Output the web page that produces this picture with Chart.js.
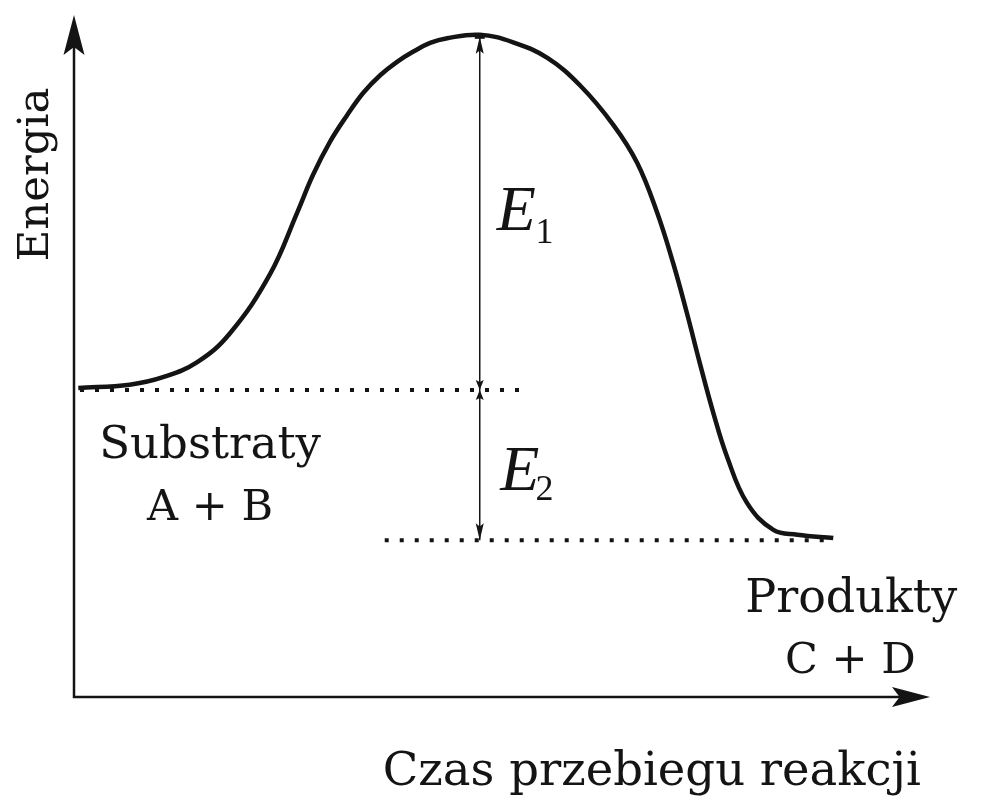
<!DOCTYPE html>
<html>
<head>
<meta charset="utf-8">
<title>Energia</title>
<script src="https://cdn.jsdelivr.net/npm/chart.js@4/dist/chart.umd.min.js"></script>
<style>
    html, body { margin: 0; padding: 0; background: #fff; }
    #wrap { width: 982px; height: 799px; }
</style>
</head>
<body>
<div id="wrap"><canvas id="chart" width="982" height="799"></canvas></div>
<script>
// reaction profile, both axes in arbitrary units 0-100
var curveTime   = [0.5, 6.5, 10.4, 14.4, 18.2, 22.9, 26.1, 27.9, 29.9, 31.9, 33.8, 35.8, 37.7, 39.6, 41.6, 43.6, 47.4,
                   51.3, 55.3, 59.1, 63.0, 65.8, 68.1, 70.0, 71.6, 73.1, 74.7, 76.3, 78.6, 81.7, 84.5, 88.7];
var curveEnergy = [45.3, 45.8, 46.9, 49.1, 53.3, 62.0, 71.1, 76.5, 81.4, 85.3, 88.6, 91.2, 93.1, 94.6, 95.9, 96.6, 97.1,
                   96.0, 93.7, 89.7, 83.9, 78.3, 71.1, 63.6, 56.3, 49.0, 41.6, 35.2, 28.5, 24.5, 23.8, 23.3];

var substrateLevel = 45.0;
var productLevel = 23.0;
var peakTime = 47.4;
var peakEnergy = 96.8;
var substrateLineX = [0.7, 52.1];
var productLineX = [36.3, 88.3];

var labelTexts = ["Substraty", "A + B", "Produkty", "C + D"];
var axisTitles = ["Czas przebiegu reakcji", "Energia"];
var energyNames = ["E", "E"];
var energySubs = ["1", "2"];

var curveData = curveTime.map(function (t, i) {
    return { x: t, y: curveEnergy[i] };
});

function flatLine(xs, level) {
    return [{ x: xs[0], y: level }, { x: xs[1], y: level }];
}

function arrowHead(ctx, tx, ty, dx, dy, len, half) {
    var bx = tx - dx * len, by = ty - dy * len;
    var nx = -dy, ny = dx;
    ctx.beginPath();
    ctx.moveTo(tx, ty);
    ctx.lineTo(bx + nx * half, by + ny * half);
    ctx.lineTo(tx - dx * len * 0.8, ty - dy * len * 0.8);
    ctx.lineTo(bx - nx * half, by - ny * half);
    ctx.closePath();
    ctx.fill();
}

var diagramPlugin = {
    id: "diagram",
    afterDatasetsDraw: function (chart) {
        var ctx = chart.ctx;
        var xs = chart.scales.x, ys = chart.scales.y;
        var px = function (v) { return xs.getPixelForValue(v); };
        var py = function (v) { return ys.getPixelForValue(v); };
        var ink = "#141414";

        ctx.save();
        ctx.strokeStyle = ink;
        ctx.fillStyle = ink;

        // axes with arrows
        ctx.lineWidth = 2.5;
        ctx.beginPath();
        ctx.moveTo(px(0), py(100) + 20);
        ctx.lineTo(px(0), py(0));
        ctx.lineTo(px(100) - 20, py(0));
        ctx.stroke();
        arrowHead(ctx, px(0), py(100), 0, -1, 40, 10.5);
        arrowHead(ctx, px(100), py(0), 1, 0, 38, 10);

        // arrows on the E1 / E2 measure line
        var ax = px(peakTime);
        arrowHead(ctx, ax, py(peakEnergy), 0, -1, 17, 4);
        ctx.lineWidth = 2;
        ctx.beginPath();
        ctx.moveTo(ax - 5, py(peakEnergy) + 1);
        ctx.lineTo(ax + 5, py(peakEnergy) + 1);
        ctx.stroke();
        arrowHead(ctx, ax, py(substrateLevel), 0, 1, 10, 4);
        arrowHead(ctx, ax, py(substrateLevel), 0, -1, 10, 4);
        arrowHead(ctx, ax, py(productLevel), 0, 1, 17, 4);

        // labels
        ctx.textBaseline = "alphabetic";
        ctx.textAlign = "center";
        ctx.font = "45px 'DejaVu Serif'";
        ctx.fillText(labelTexts[0], px(15.9), py(35.0));
        ctx.font = "43px 'DejaVu Serif'";
        ctx.fillText(labelTexts[1], px(15.9), py(26.0));
        ctx.font = "46px 'DejaVu Serif'";
        ctx.fillText(labelTexts[2], px(90.8), py(12.5));
        ctx.font = "43px 'DejaVu Serif'";
        ctx.fillText(labelTexts[3], px(90.7), py(3.5));

        ctx.font = "46.5px 'DejaVu Serif'";
        ctx.fillText(axisTitles[0], px(67.5), py(-12.9));

        ctx.save();
        ctx.translate(px(-3.0), py(76.6));
        ctx.rotate(-Math.PI / 2);
        ctx.font = "43.5px 'DejaVu Serif'";
        ctx.fillText(axisTitles[1], 0, 0);
        ctx.restore();

        // E1, E2
        ctx.textAlign = "left";
        ctx.font = "italic 64px 'Liberation Serif'";
        ctx.fillText(energyNames[0], px(49.4), py(68.5));
        ctx.fillText(energyNames[1], px(49.8), py(30.4));
        ctx.font = "36px 'Liberation Serif'";
        ctx.fillText(energySubs[0], px(53.9), py(66.6));
        ctx.fillText(energySubs[1], px(53.9), py(28.9));

        ctx.restore();
    }
};

var ctx = document.getElementById("chart");

var chart = new Chart(ctx, {
    type: "line",
    data: {
        datasets: [
            {
                data: curveData,
                borderColor: "#141414",
                borderWidth: 4.5,
                pointRadius: 0,
                tension: 0.4
            },
            {
                data: flatLine(substrateLineX, substrateLevel),
                borderColor: "#141414",
                borderWidth: 4,
                borderDash: [4, 11],
                pointRadius: 0
            },
            {
                data: flatLine(productLineX, productLevel),
                borderColor: "#141414",
                borderWidth: 4,
                borderDash: [4, 11],
                pointRadius: 0
            },
            {
                data: [{ x: peakTime, y: productLevel }, { x: peakTime, y: peakEnergy }],
                borderColor: "#141414",
                borderWidth: 1.5,
                pointRadius: 0
            }
        ]
    },
    options: {
        responsive: false,
        animation: false,
        layout: { padding: { left: 74, right: 52, top: 15, bottom: 102 } },
        plugins: {
            legend: { display: false },
            tooltip: { enabled: false }
        },
        scales: {
            x: { type: "linear", min: 0, max: 100, display: false },
            y: { type: "linear", min: 0, max: 100, display: false }
        }
    },
    plugins: [diagramPlugin]
});
</script>
</body>
</html>
